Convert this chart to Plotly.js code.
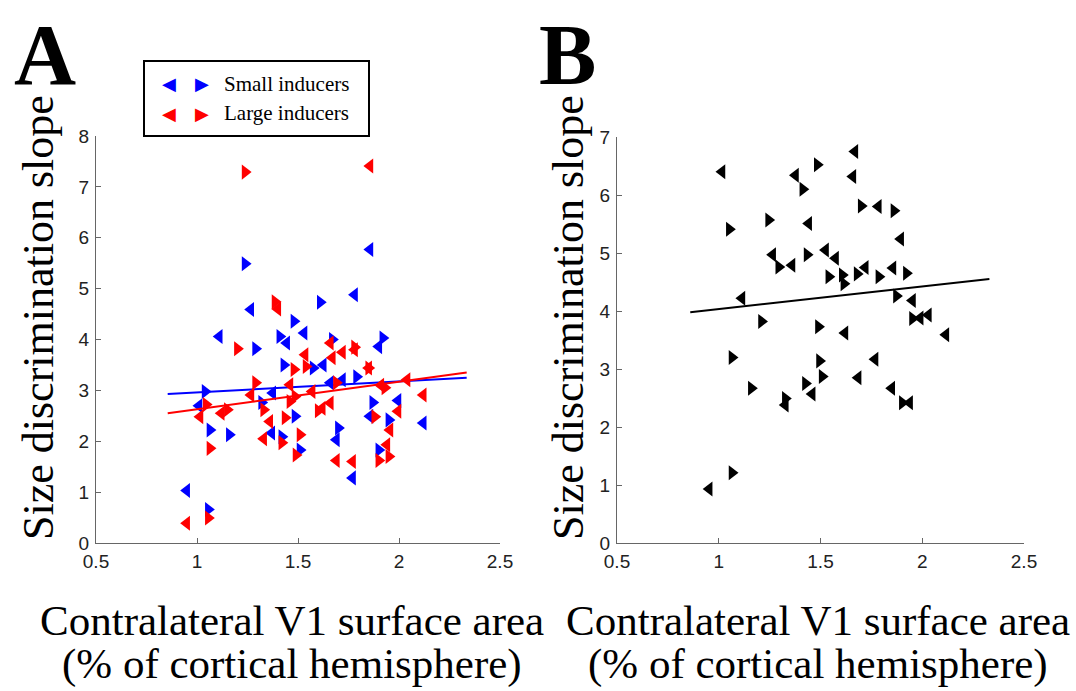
<!DOCTYPE html>
<html>
<head>
<meta charset="utf-8">
<script src="https://cdn.plot.ly/plotly-3.0.1.min.js"></script>
<style>html,body{margin:0;padding:0;background:#fff;}#chart{width:1076px;height:691px;}</style>
</head>
<body>
<div id="chart"></div>
<script>
// ---- Panel A: small inducers (blue) ----
var smallLeftX  = [0.949, 1.266, 1.11, 1.856, 1.78, 1.53, 1.444, 1.375, 1.37, 1.90, 1.625, 1.72, 1.66, 1.995, 1.856, 2.12, 1.69, 1.77, 1.01];
var smallLeftY  = [1.03, 4.59, 4.06, 5.77, 4.88, 4.13, 3.93, 2.95, 2.16, 3.86, 3.50, 3.21, 3.15, 2.80, 2.49, 2.36, 2.03, 1.28, 2.70];
var smallRightX = [1.238, 1.48, 1.41, 1.61, 1.92, 1.29, 1.43, 1.04, 1.32, 1.485, 1.064, 1.16, 1.42, 1.056, 1.67, 1.575, 1.79, 1.87, 1.95, 1.70, 1.90, 1.51];
var smallRightY = [5.49, 4.36, 4.06, 4.73, 4.03, 3.82, 3.50, 2.98, 2.76, 2.49, 2.22, 2.13, 2.09, 0.66, 4.00, 3.44, 3.27, 2.76, 2.42, 2.26, 1.83, 1.83];
// ---- Panel A: large inducers (red) ----
var largeLeftX  = [1.856, 1.40, 1.267, 1.46, 1.015, 1.12, 1.36, 1.33, 0.949, 1.66, 1.72, 1.78, 1.67, 1.535, 1.85, 2.04, 2.12, 1.91, 1.57, 1.62, 1.66, 1.995, 1.955, 1.94, 1.69, 1.77];
var largeLeftY  = [7.41, 4.60, 2.91, 3.11, 2.48, 2.55, 2.39, 2.05, 0.39, 3.93, 3.75, 3.80, 3.64, 3.70, 3.44, 3.21, 2.91, 3.10, 2.98, 2.65, 2.75, 2.59, 2.22, 1.93, 1.62, 1.60];
var largeRightX = [1.238, 1.386, 1.20, 1.48, 1.29, 1.045, 1.15, 1.33, 1.436, 1.46, 1.42, 1.064, 1.49, 1.056, 1.78, 1.54, 1.85, 1.69, 1.93, 1.485, 1.60, 1.88, 1.51, 1.90, 1.95];
var largeRightY = [7.29, 4.74, 3.82, 3.41, 3.15, 2.72, 2.62, 2.62, 2.46, 2.78, 1.97, 1.86, 1.73, 0.49, 3.85, 3.47, 3.44, 3.15, 3.05, 2.88, 2.60, 2.48, 2.13, 1.62, 1.70];
// fit lines A
var fitSmallX = [0.855, 2.335], fitSmallY = [2.93, 3.25];
var fitLargeX = [0.855, 2.335], fitLargeY = [2.55, 3.35];

// ---- Panel B (black) ----
var bLeftX  = [1.016, 1.377, 1.442, 1.265, 1.36, 1.114, 1.669, 1.659, 1.784, 1.894, 1.525, 1.574, 1.72, 1.856, 1.952, 1.99, 2.03, 1.62, 2.116, 1.327, 1.459, 0.953, 1.768, 1.685, 1.85, 1.938];
var bLeftY  = [6.40, 6.34, 5.51, 4.97, 4.79, 4.22, 6.75, 6.32, 5.80, 5.24, 5.05, 4.91, 4.75, 4.74, 4.18, 3.88, 3.93, 3.62, 3.59, 2.38, 2.57, 0.93, 3.17, 2.85, 2.67, 2.42];
var bRightX = [1.484, 1.413, 1.245, 1.052, 1.295, 1.434, 1.21, 1.49, 1.70, 1.861, 1.541, 1.607, 1.615, 1.68, 1.787, 1.922, 1.873, 1.952, 1.065, 1.16, 1.327, 1.426, 1.495, 1.508, 1.065, 1.902];
var bRightY = [6.52, 6.10, 5.57, 5.41, 4.76, 4.97, 3.82, 3.73, 5.81, 5.73, 4.59, 4.62, 4.47, 4.64, 4.59, 4.65, 4.26, 3.87, 3.20, 2.67, 2.49, 2.75, 3.14, 2.87, 1.21, 2.42];
var fitBX = [0.86, 2.33], fitBY = [3.98, 4.55];

var xTickVals = [0.5, 1, 1.5, 2, 2.5];
var xTickText = ['0.5', '1', '1.5', '2', '2.5'];
var yTicksA = [0, 1, 2, 3, 4, 5, 6, 7, 8];
var yTicksB = [0, 1, 2, 3, 4, 5, 6, 7];

var legendLabels = ['Small inducers', 'Large inducers'];
var xTitleLines = ['Contralateral V1 surface area', '(% of cortical hemisphere)'];
var yTitle = 'Size discrimination slope';

var BLUE = '#0000ff', RED = '#ff0000', BLACK = '#000000';
var MS = 13;

function mk(x, y, sym, color, xa, ya) {
  return {x: x, y: y, type: 'scatter', mode: 'markers', xaxis: xa, yaxis: ya,
    marker: {symbol: sym, size: MS, color: color, line: {width: 0}}, showlegend: false, hoverinfo: 'x+y'};
}
function ln(x, y, color, xa, ya) {
  return {x: x, y: y, type: 'scatter', mode: 'lines', xaxis: xa, yaxis: ya,
    line: {color: color, width: 2}, showlegend: false, hoverinfo: 'skip'};
}

var data = [
  mk(smallLeftX, smallLeftY, 'triangle-left', BLUE, 'x', 'y'),
  mk(smallRightX, smallRightY, 'triangle-right', BLUE, 'x', 'y'),
  ln(fitSmallX, fitSmallY, BLUE, 'x', 'y'),
  mk(largeLeftX, largeLeftY, 'triangle-left', RED, 'x', 'y'),
  mk(largeRightX, largeRightY, 'triangle-right', RED, 'x', 'y'),
  ln(fitLargeX, fitLargeY, RED, 'x', 'y'),
  mk(bLeftX, bLeftY, 'triangle-left', BLACK, 'x2', 'y2'),
  mk(bRightX, bRightY, 'triangle-right', BLACK, 'x2', 'y2'),
  ln(fitBX, fitBY, BLACK, 'x2', 'y2')
];

var W = 1076, H = 691;
function px(v) { return v / W; }
function py(v) { return 1 - v / H; }

var axCommon = {
  showgrid: false, zeroline: false, showline: true, linecolor: '#666', linewidth: 1.2,
  ticks: 'inside', ticklen: 5, tickcolor: '#666', tickwidth: 1,
  tickfont: {family: 'Arial, Liberation Sans, sans-serif', size: 19, color: '#222'},
  mirror: false, fixedrange: true
};

var layout = {
  width: W, height: H, margin: {l: 0, r: 0, t: 0, b: 0},
  paper_bgcolor: '#fff', plot_bgcolor: '#fff', showlegend: false,
  xaxis: Object.assign({}, axCommon, {domain: [px(96), px(500)], range: [0.5, 2.5], tickvals: xTickVals, ticktext: xTickText, anchor: 'y', ticklabelstandoff: 1}),
  yaxis: Object.assign({}, axCommon, {domain: [py(543), py(136)], range: [0, 8], tickvals: yTicksA, anchor: 'x', ticklabelstandoff: 2}),
  xaxis2: Object.assign({}, axCommon, {domain: [px(617), px(1024)], range: [0.5, 2.5], tickvals: xTickVals, ticktext: xTickText, anchor: 'y2', ticklabelstandoff: 1}),
  yaxis2: Object.assign({}, axCommon, {domain: [py(543), py(137)], range: [0, 7], tickvals: yTicksB, anchor: 'x2', ticklabelstandoff: 2}),
  shapes: [
    {type: 'rect', xref: 'paper', yref: 'paper', x0: px(144), x1: px(369), y0: py(136), y1: py(61),
     line: {color: '#000', width: 2}, fillcolor: 'rgba(255,255,255,1)'}
  ],
  annotations: []
};

var serif = 'Times New Roman, Liberation Serif, DejaVu Serif, serif';
var ann = layout.annotations;
// panel letters
ann.push({text: '<b>A</b>', xref: 'paper', yref: 'paper', x: px(45), y: py(55), showarrow: false, borderpad: 0, font: {family: serif, size: 86, color: '#000'}, xanchor: 'center', yanchor: 'middle'});
ann.push({text: '<b>B</b>', xref: 'paper', yref: 'paper', x: px(567), y: py(55), showarrow: false, borderpad: 0, font: {family: serif, size: 86, color: '#000'}, xanchor: 'center', yanchor: 'middle'});
// axis titles
[[292, 38], [818, 568]].forEach(function (p) {
  ann.push({text: xTitleLines[0], xref: 'paper', yref: 'paper', x: px(p[0]), y: py(620), showarrow: false,
    font: {family: serif, size: 43, color: '#000'}, xanchor: 'center', yanchor: 'middle'});
  ann.push({text: xTitleLines[1], xref: 'paper', yref: 'paper', x: px(p[0]), y: py(664), showarrow: false,
    font: {family: serif, size: 43, color: '#000'}, xanchor: 'center', yanchor: 'middle'});
  ann.push({text: yTitle, xref: 'paper', yref: 'paper', x: px(p[1]), y: py(318), showarrow: false, textangle: -90,
    font: {family: serif, size: 44, color: '#000'}, xanchor: 'center', yanchor: 'middle'});
});
// legend
var legColors = [BLUE, RED];
var legY = [84, 113];
for (var i = 0; i < 2; i++) {
  ann.push({text: '\u25C0', xref: 'paper', yref: 'paper', x: px(169), y: py(legY[i]), showarrow: false,
    font: {family: 'DejaVu Sans, sans-serif', size: 18, color: legColors[i]}, xanchor: 'center', yanchor: 'middle'});
  ann.push({text: '\u25B6', xref: 'paper', yref: 'paper', x: px(202), y: py(legY[i]), showarrow: false,
    font: {family: 'DejaVu Sans, sans-serif', size: 18, color: legColors[i]}, xanchor: 'center', yanchor: 'middle'});
  ann.push({text: legendLabels[i], xref: 'paper', yref: 'paper', x: px(222), y: py(legY[i]), showarrow: false,
    font: {family: serif, size: 21, color: '#000'}, xanchor: 'left', yanchor: 'middle'});
}

Plotly.newPlot('chart', data, layout, {displayModeBar: false, staticPlot: true});
</script>
</body>
</html>
